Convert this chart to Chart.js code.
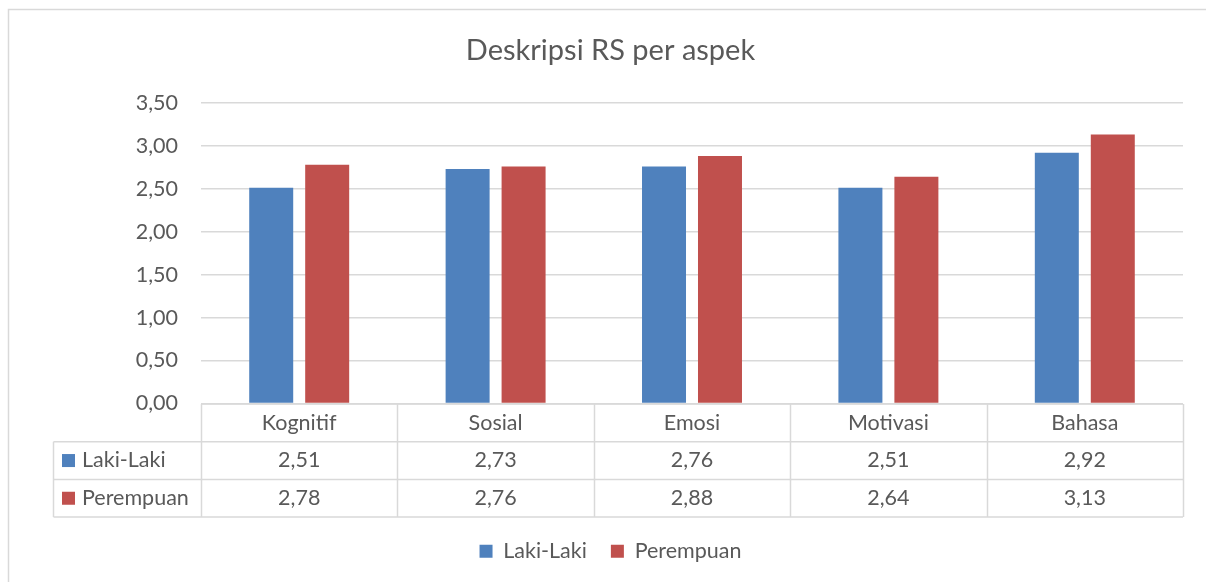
<!DOCTYPE html>
<html>
<head>
<meta charset="utf-8">
<script src="https://cdn.jsdelivr.net/npm/chart.js@4"></script>
<style>
  html, body { margin: 0; padding: 0; background: #ffffff; }
  #wrap { width: 1206px; height: 582px; position: relative; }
</style>
</head>
<body>
<div id="wrap"><canvas id="c" width="1206" height="582"></canvas></div>
<script>
const categories = ['Kognitif', 'Sosial', 'Emosi', 'Motivasi', 'Bahasa'];
const seriesNames = ['Laki-Laki', 'Perempuan'];
const lakiLaki = [2.51, 2.73, 2.76, 2.51, 2.92];
const perempuan = [2.78, 2.76, 2.88, 2.64, 3.13];
const yTicks = [0, 0.5, 1, 1.5, 2, 2.5, 3, 3.5];
const chartTitle = 'Deskripsi RS per aspek';

const FONT = 'Lato, "Open Sans", sans-serif';
const FS = 21.5;
const TEXT = '#595959';
const GRID = '#d9d9d9';
const BLUE = '#4f81bd';
const RED = '#c0504d';
const fmt = v => v.toFixed(2).replace('.', ',');

const LEGEND_PAD = 24;

const framePlugin = {
  id: 'frame',
  beforeDraw(chart) {
    const ctx = chart.ctx;
    ctx.save();
    ctx.fillStyle = '#ffffff';
    ctx.fillRect(0, 0, chart.width, chart.height);
    ctx.strokeStyle = GRID;
    ctx.lineWidth = 1.5;
    ctx.beginPath();
    ctx.moveTo(8.5, chart.height + 2);
    ctx.lineTo(8.5, 9.5);
    ctx.lineTo(chart.width + 2, 9.5);
    ctx.stroke();
    ctx.restore();
  }
};

const tablePlugin = {
  id: 'dataTable',
  afterDraw(chart) {
    const ctx = chart.ctx;
    const x = chart.scales.x;
    const area = chart.chartArea;
    const n = categories.length;
    const w = (x.right - x.left) / n;
    const rowH = 37.7;
    const top = area.bottom + 0.5;
    const r1 = top + rowH, r2 = r1 + rowH, r3 = r2 + rowH;
    const leftCol = 53.5;
    ctx.save();
    ctx.strokeStyle = GRID;
    ctx.lineWidth = 1.5;
    ctx.beginPath();
    ctx.moveTo(x.left, top); ctx.lineTo(x.right, top);
    [r1, r2, r3].forEach(yy => { ctx.moveTo(leftCol, yy); ctx.lineTo(x.right, yy); });
    ctx.moveTo(leftCol, r1); ctx.lineTo(leftCol, r3);
    for (let i = 0; i <= n; i++) {
      const xx = Math.round(x.left + i * w) + 0.5;
      ctx.moveTo(xx, top); ctx.lineTo(xx, r3);
    }
    ctx.stroke();

    ctx.fillStyle = TEXT;
    ctx.font = FS + 'px ' + FONT;
    ctx.textAlign = 'center';
    ctx.textBaseline = 'middle';
    const rows = [lakiLaki, perempuan];
    categories.forEach((c, i) => {
      const cx = x.getPixelForValue(i);
      ctx.fillText(c, cx, (top + r1) / 2);
      rows.forEach((vals, j) => {
        const ry = j === 0 ? (r1 + r2) / 2 : (r2 + r3) / 2;
        ctx.fillText(fmt(vals[i]), cx, ry);
      });
    });
    ctx.textAlign = 'left';
    const colors = [BLUE, RED];
    seriesNames.forEach((s, j) => {
      const ry = j === 0 ? (r1 + r2) / 2 : (r2 + r3) / 2;
      ctx.fillStyle = colors[j];
      ctx.fillRect(62, ry - 6.5, 13, 13);
      ctx.fillStyle = TEXT;
      ctx.fillText(s, 82, ry);
    });
    ctx.restore();
  }
};

new Chart(document.getElementById('c'), {
  type: 'bar',
  data: {
    labels: categories,
    datasets: [
      { label: seriesNames[0], data: lakiLaki, backgroundColor: BLUE, categoryPercentage: 0.57, barPercentage: 0.786 },
      { label: seriesNames[1], data: perempuan, backgroundColor: RED, categoryPercentage: 0.57, barPercentage: 0.786 }
    ]
  },
  options: {
    responsive: false,
    animation: false,
    devicePixelRatio: 1,
    layout: { padding: { top: 0, left: 38, right: 23, bottom: 10 } },
    plugins: {
      title: {
        display: true,
        text: chartTitle,
        color: TEXT,
        font: { family: FONT, size: 29, weight: 'normal' },
        padding: { top: 33, bottom: 35 }
      },
      legend: {
        display: true,
        position: 'bottom',
        labels: {
          color: TEXT,
          font: { family: FONT, size: FS },
          boxWidth: 13,
          boxHeight: 13,
          padding: LEGEND_PAD
        }
      },
      tooltip: { enabled: false }
    },
    scales: {
      x: {
        grid: { display: false, drawTicks: false },
        border: { display: false },
        ticks: { display: false },
        afterFit(scale) { scale.height = 137 - LEGEND_PAD; }
      },
      y: {
        min: 0,
        max: 3.5,
        afterBuildTicks(scale) { scale.ticks = yTicks.map(v => ({ value: v })); },
        afterFit(scale) { scale.width = 163; },
        grid: { color: GRID, lineWidth: 1.5, drawTicks: false },
        border: { display: false },
        ticks: {
          color: TEXT,
          padding: 23,
          font: { family: FONT, size: FS },
          callback: v => fmt(v)
        }
      }
    }
  },
  plugins: [framePlugin, tablePlugin]
});
</script>
</body>
</html>
